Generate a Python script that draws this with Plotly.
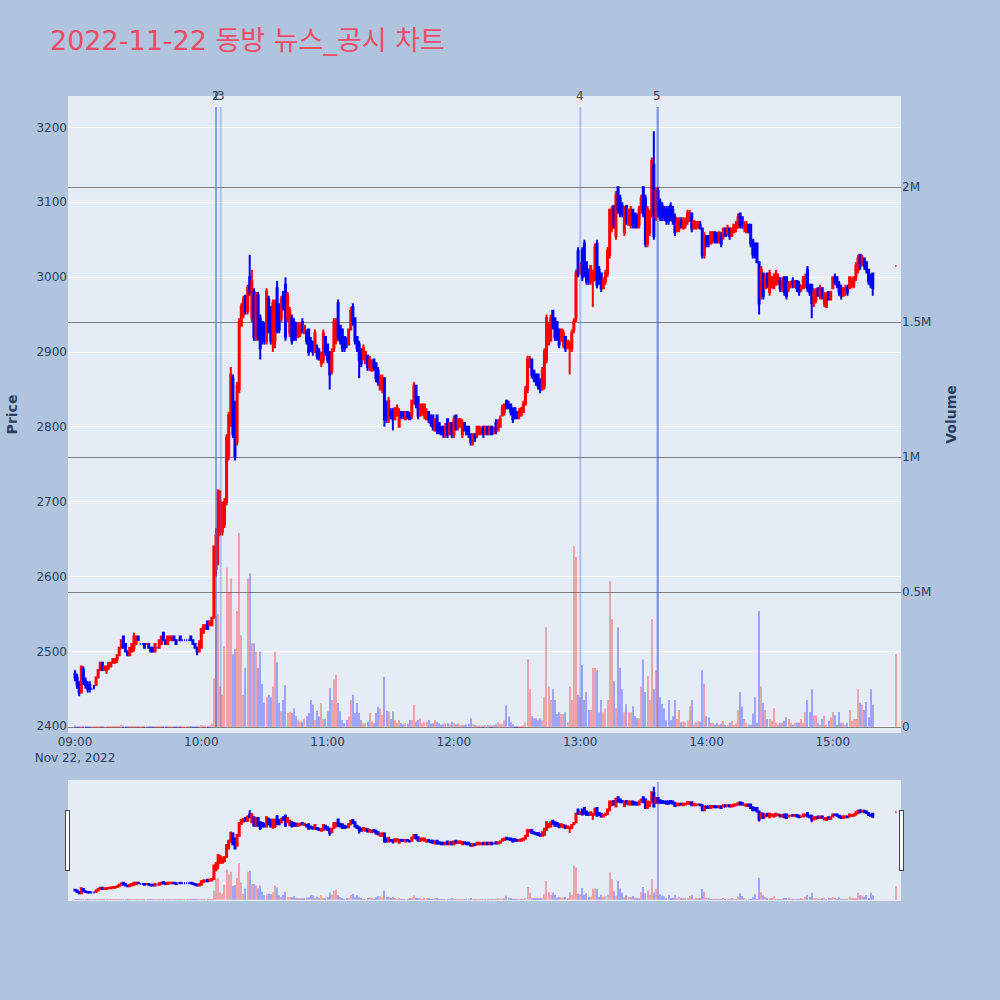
import pandas as pd
import plotly.graph_objects as go
from plotly.subplots import make_subplots

# ---------------- data (1-minute bars, 2022-11-22) ----------------
minute_offsets = list(range(380)) + [390]

opens = [
    2470,2465,2455,2445,2475,2460,2455,2455,2450,2450,
    2455,2465,2475,2485,2475,2475,2480,2480,2485,2485,
    2490,2495,2505,2520,2510,2500,2495,2500,2505,2510,
    2520,2510,2510,2510,2510,2510,2505,2505,2500,2505,
    2505,2510,2525,2515,2510,2515,2515,2520,2515,2515,
    2520,2515,2515,2515,2515,2520,2515,2510,2505,2500,
    2505,2525,2530,2540,2535,2535,2545,2610,2655,2660,
    2660,2670,2700,2760,2815,2865,2830,2780,2850,2935,
    2950,2975,2955,3000,2945,2980,2920,2975,2945,2940,
    2935,2915,2970,2960,2910,2915,2985,2960,2945,2980,
    2990,2945,2925,2945,2940,2935,2920,2925,2940,2925,
    2925,2930,2915,2910,2900,2905,2900,2885,2890,2920,
    2910,2900,2875,2905,2915,2965,2935,2930,2920,2915,
    2910,2930,2960,2945,2920,2910,2900,2890,2885,2895,
    2880,2875,2890,2885,2875,2850,2850,2865,2830,2810,
    2820,2820,2810,2815,2800,2820,2820,2810,2820,2815,
    2815,2835,2855,2840,2815,2820,2815,2810,2820,2815,
    2815,2795,2815,2805,2800,2800,2790,2810,2790,2805,
    2790,2815,2800,2800,2790,2805,2800,2800,2790,2780,
    2790,2790,2790,2790,2800,2790,2800,2790,2800,2795,
    2805,2795,2800,2815,2820,2835,2830,2830,2825,2825,
    2820,2815,2815,2820,2830,2850,2880,2890,2875,2870,
    2870,2860,2850,2855,2890,2910,2915,2955,2945,2940,
    2930,2915,2910,2920,2905,2905,2905,2930,2945,3035,
    3005,3035,3045,3020,3010,2995,2995,3000,3045,3010,
    3005,2985,2995,3005,3030,3065,3095,3055,3120,3105,
    3095,3060,3095,3070,3070,3090,3085,3080,3070,3090,
    3120,3105,3045,3060,3085,3150,3080,3115,3100,3095,
    3090,3090,3090,3095,3090,3080,3065,3065,3075,3065,
    3070,3075,3075,3085,3065,3065,3070,3070,3065,3030,
    3055,3055,3045,3050,3060,3055,3050,3055,3055,3065,
    3060,3065,3055,3060,3065,3070,3085,3080,3065,3060,
    3070,3070,3050,3045,3045,3020,2975,3005,2985,3005,
    2980,2990,2985,2990,2995,2995,2985,3000,3000,2985,
    2990,2995,2990,2995,2990,2985,2985,2990,3010,2990,
    2990,2965,2970,2985,2975,2985,2965,2960,2980,2970,
    2985,3000,3000,2990,2985,2975,2980,2985,2985,2990,
    2990,3000,3010,3030,3020,3025,3020,3010,3000,3005,
    3015,
]

highs = [
    2475,2470,2460,2480,2480,2465,2460,2460,2450,2455,
    2465,2475,2485,2485,2480,2480,2485,2485,2490,2490,
    2495,2505,2515,2520,2510,2500,2505,2510,2525,2520,
    2520,2510,2510,2510,2510,2510,2505,2505,2510,2505,
    2515,2520,2525,2515,2520,2520,2520,2520,2515,2515,
    2520,2515,2515,2515,2515,2520,2515,2510,2505,2515,
    2530,2535,2535,2540,2540,2545,2640,2665,2715,2715,
    2700,2705,2790,2820,2880,2870,2835,2860,2945,2965,
    2975,2975,2990,3030,3010,2985,2980,2980,2950,2940,
    2940,2985,2975,2960,2970,2970,2995,2965,2975,2980,
    3000,2980,2960,2950,2945,2940,2940,2940,2945,2935,
    2930,2930,2920,2915,2930,2910,2905,2900,2930,2920,
    2910,2900,2905,2945,2945,2970,2935,2930,2920,2920,
    2930,2960,2965,2945,2920,2915,2905,2910,2900,2895,
    2895,2890,2890,2885,2880,2870,2870,2865,2835,2840,
    2825,2825,2825,2830,2825,2820,2820,2820,2820,2820,
    2835,2860,2855,2840,2830,2830,2830,2825,2820,2815,
    2815,2810,2815,2805,2800,2800,2805,2810,2805,2805,
    2815,2815,2810,2810,2810,2805,2800,2800,2790,2790,
    2790,2800,2800,2800,2800,2800,2800,2800,2800,2800,
    2810,2810,2815,2830,2830,2835,2835,2830,2825,2825,
    2820,2825,2825,2835,2855,2895,2895,2890,2875,2870,
    2870,2865,2880,2905,2950,2940,2950,2955,2945,2940,
    2930,2930,2930,2920,2915,2915,2930,2945,3010,3040,
    3020,3040,3050,3020,3010,3015,3010,3045,3050,3015,
    3005,3000,3010,3040,3090,3095,3095,3115,3120,3110,
    3100,3095,3095,3090,3095,3090,3085,3085,3095,3110,
    3120,3110,3095,3090,3160,3195,3120,3120,3105,3100,
    3095,3095,3095,3100,3095,3085,3080,3080,3080,3080,
    3080,3090,3090,3085,3075,3075,3075,3075,3065,3060,
    3055,3055,3060,3060,3060,3060,3060,3060,3065,3065,
    3070,3065,3065,3070,3075,3085,3085,3080,3075,3075,
    3070,3070,3050,3045,3045,3020,3015,3005,3005,3005,
    3010,3000,3005,3010,3005,3000,3000,3000,3000,2995,
    2995,3000,2995,2995,2995,2990,3000,3005,3015,2990,
    2990,2985,2985,2985,2990,2985,2980,2980,2980,2980,
    3000,3005,3000,2995,2990,2985,2990,2990,3000,3000,
    3000,3020,3030,3030,3030,3025,3020,3010,3005,3005,
    3015,
]

lows = [
    2460,2450,2440,2445,2455,2450,2445,2445,2450,2450,
    2455,2465,2475,2475,2475,2470,2475,2480,2485,2485,
    2485,2495,2505,2505,2500,2495,2495,2500,2500,2510,
    2515,2510,2510,2505,2510,2505,2500,2500,2500,2505,
    2505,2510,2515,2510,2510,2515,2515,2515,2510,2515,
    2515,2515,2515,2515,2515,2515,2510,2505,2495,2500,
    2505,2525,2530,2530,2535,2535,2545,2600,2615,2655,
    2655,2665,2695,2755,2800,2785,2755,2775,2845,2935,
    2945,2950,2950,2975,2940,2915,2915,2915,2890,2910,
    2910,2910,2925,2910,2900,2905,2925,2925,2940,2955,
    2915,2940,2920,2910,2915,2915,2920,2920,2925,2925,
    2910,2895,2900,2895,2900,2890,2890,2880,2885,2895,
    2885,2850,2870,2900,2910,2915,2910,2900,2900,2905,
    2910,2930,2935,2910,2900,2865,2880,2890,2885,2875,
    2875,2875,2875,2860,2855,2850,2845,2800,2805,2805,
    2810,2795,2810,2815,2800,2810,2810,2810,2810,2810,
    2810,2830,2825,2810,2815,2815,2810,2810,2805,2800,
    2795,2795,2790,2790,2790,2785,2785,2785,2790,2785,
    2785,2795,2795,2800,2785,2795,2790,2785,2775,2775,
    2780,2785,2790,2790,2785,2790,2790,2790,2790,2790,
    2790,2795,2800,2815,2815,2825,2825,2815,2805,2810,
    2810,2810,2815,2820,2830,2845,2880,2865,2860,2855,
    2850,2845,2850,2850,2885,2910,2915,2930,2915,2915,
    2905,2915,2905,2900,2905,2870,2900,2925,2940,3000,
    3005,2995,3000,2990,2990,2990,2960,2995,2985,2990,
    2980,2985,2990,3000,3025,3060,3065,3050,3085,3080,
    3080,3055,3070,3070,3065,3065,3065,3065,3065,3085,
    3080,3040,3040,3055,3080,3050,3075,3080,3075,3075,
    3075,3070,3070,3075,3070,3055,3060,3060,3065,3065,
    3065,3070,3075,3060,3065,3065,3065,3065,3025,3025,
    3040,3040,3045,3045,3045,3045,3045,3040,3050,3055,
    3055,3050,3055,3060,3060,3065,3065,3065,3060,3060,
    3060,3040,3025,3025,3020,2950,2970,2970,2985,2985,
    2975,2985,2985,2990,2990,2980,2980,2975,2970,2980,
    2985,2985,2985,2980,2975,2980,2985,2985,2980,2975,
    2945,2960,2965,2975,2970,2970,2960,2960,2970,2970,
    2985,2990,2985,2975,2970,2975,2975,2975,2985,2985,
    2985,2995,3005,3010,3015,3010,3005,2990,2985,2975,
    3015,
]

closes = [
    2465,2455,2445,2480,2460,2455,2450,2450,2450,2450,
    2465,2475,2485,2475,2480,2480,2485,2485,2490,2490,
    2495,2505,2515,2505,2500,2495,2505,2510,2520,2520,
    2515,2510,2510,2505,2510,2505,2500,2500,2510,2505,
    2515,2520,2515,2510,2520,2520,2520,2515,2510,2515,
    2515,2515,2515,2515,2515,2515,2510,2505,2500,2510,
    2530,2535,2535,2530,2540,2545,2640,2655,2715,2700,
    2695,2700,2785,2815,2870,2790,2760,2855,2940,2960,
    2970,2955,2985,2980,2995,2920,2975,2920,2905,2915,
    2915,2980,2930,2915,2965,2960,2930,2930,2970,2960,
    2920,2975,2955,2915,2920,2920,2935,2935,2930,2935,
    2915,2900,2905,2900,2925,2895,2890,2895,2925,2900,
    2890,2870,2900,2940,2940,2920,2915,2905,2905,2910,
    2930,2955,2940,2915,2905,2890,2885,2905,2900,2880,
    2890,2885,2880,2865,2860,2865,2865,2810,2810,2835,
    2815,2810,2825,2825,2820,2815,2815,2820,2815,2810,
    2835,2855,2830,2815,2830,2830,2830,2820,2810,2805,
    2800,2810,2795,2795,2790,2790,2800,2790,2805,2790,
    2810,2800,2810,2810,2805,2795,2790,2790,2780,2790,
    2785,2800,2800,2795,2790,2800,2790,2800,2790,2795,
    2795,2805,2810,2825,2830,2825,2825,2820,2810,2815,
    2815,2820,2825,2830,2850,2890,2890,2870,2865,2860,
    2855,2850,2875,2900,2945,2935,2945,2935,2920,2920,
    2910,2930,2925,2905,2915,2910,2925,2940,3005,3005,
    3015,3000,3005,2995,2995,3015,3005,3040,2990,2995,
    2985,2995,3005,3035,3090,3090,3070,3110,3090,3085,
    3085,3090,3075,3090,3090,3070,3070,3070,3090,3105,
    3085,3045,3090,3085,3155,3055,3115,3085,3080,3080,
    3080,3075,3075,3080,3075,3060,3075,3075,3070,3075,
    3075,3085,3085,3065,3075,3070,3070,3065,3030,3055,
    3045,3045,3060,3060,3050,3050,3060,3045,3065,3055,
    3065,3055,3065,3070,3070,3080,3070,3070,3070,3070,
    3060,3045,3030,3030,3020,2965,3010,2975,3000,2990,
    3005,3000,3000,3005,3000,2985,2995,2980,2975,2990,
    2990,2990,2995,2985,2980,2985,3000,3000,2985,2980,
    2965,2980,2980,2975,2985,2975,2975,2975,2970,2980,
    3000,2995,2990,2980,2975,2985,2985,2980,3000,2995,
    3000,3015,3025,3015,3025,3015,3010,2995,2990,2985,
    3015,
]

volumes = [
    6000,3000,2500,4000,2000,1500,2000,1800,1000,1200,
    1500,2000,1800,1500,1000,1200,1400,1000,1500,2000,
    1800,3000,9000,5000,2500,2000,1500,2000,3000,2500,
    1500,1000,1000,800,900,1500,1200,1000,1500,800,
    1200,1500,3000,2000,1500,1200,1000,1300,1000,800,
    1200,700,800,600,900,1500,2000,1500,3000,4000,
    8000,6000,5000,4000,6000,12000,180000,410000,420000,150000,
    120000,300000,590000,500000,550000,270000,290000,430000,720000,340000,
    120000,220000,550000,570000,310000,310000,280000,220000,280000,160000,
    90000,110000,120000,110000,150000,280000,240000,90000,58000,100000,
    155000,52000,58000,52000,70000,40000,26000,20000,20000,30000,
    40000,52000,100000,83000,26000,60000,40000,89000,30000,30000,
    58000,145000,100000,177000,195000,89000,58000,26000,14000,26000,
    40000,100000,120000,52000,89000,52000,26000,14000,14000,20000,
    52000,20000,14000,52000,75000,70000,45000,185000,60000,58000,
    30000,58000,26000,15000,26000,14000,10000,14000,12000,26000,
    26000,83000,20000,26000,33000,14000,20000,20000,26000,12000,
    14000,26000,20000,14000,9000,10000,14000,14000,10000,20000,
    14000,10000,14000,8000,9000,7000,10000,12000,33000,10000,
    8000,6000,7000,5000,6000,8000,9000,7000,6000,8000,
    10000,18000,12000,10000,25000,80000,40000,18000,10000,3000,
    4000,3000,3000,6000,18000,250000,140000,40000,33000,33000,
    25000,33000,25000,110000,370000,150000,100000,140000,100000,48000,
    55000,48000,48000,55000,18000,150000,100000,670000,630000,120000,
    110000,230000,100000,130000,63000,63000,220000,220000,210000,55000,
    100000,55000,70000,100000,540000,400000,170000,70000,370000,220000,
    140000,55000,85000,55000,55000,77000,40000,33000,33000,150000,
    250000,130000,190000,100000,400000,140000,210000,2296000,110000,85000,
    70000,25000,100000,25000,40000,100000,30000,63000,18000,20000,
    18000,25000,77000,100000,10000,18000,23000,20000,210000,160000,
    40000,36000,16000,16000,9000,16000,9000,12000,23000,9000,
    9000,16000,23000,9000,13000,63000,130000,76000,30000,16000,
    9000,9000,50000,110000,16000,430000,150000,90000,63000,30000,
    30000,23000,70000,16000,9000,16000,16000,23000,36000,30000,
    16000,9000,16000,16000,16000,30000,16000,56000,100000,56000,
    140000,43000,43000,16000,9000,30000,43000,9000,23000,36000,
    56000,43000,9000,56000,16000,16000,9000,16000,63000,23000,
    30000,30000,140000,90000,83000,63000,93000,36000,140000,83000,
    270000,
]

news_times = ["2022-11-22 10:07:00", "2022-11-22 10:07:00", "2022-11-22 10:09:13",
              "2022-11-22 13:00:03", "2022-11-22 13:36:37"]
news_labels = ["1", "2", "3", "4", "5"]

title_text = "2022-11-22 동방 뉴스_공시 차트"

n = len(minute_offsets)
assert all(len(s) == n for s in (opens, highs, lows, closes, volumes)), [len(s) for s in (opens, highs, lows, closes, volumes)]

start = pd.Timestamp("2022-11-22 09:00")
times = [start + pd.Timedelta(minutes=m) for m in minute_offsets]

UP = "red"
DOWN = "blue"
vol_colors = [UP if c >= o else DOWN for o, c in zip(opens, closes)]
vol_max = max(volumes)

fig = make_subplots(specs=[[{"secondary_y": True}]])

fig.add_trace(
    go.Candlestick(
        x=times, open=opens, high=highs, low=lows, close=closes,
        increasing=dict(line=dict(color=UP, width=2), fillcolor=UP),
        decreasing=dict(line=dict(color=DOWN, width=2), fillcolor=DOWN),
        name="Price", showlegend=False,
    ),
    secondary_y=False,
)

fig.add_trace(
    go.Bar(
        x=times, y=volumes, marker=dict(color=vol_colors, line=dict(width=0)),
        opacity=0.3, name="Volume", showlegend=False,
    ),
    secondary_y=True,
)

x_start = "2022-11-22 08:56:40"
x_end = "2022-11-22 15:32:25"

for t, lab in zip(news_times, news_labels):
    fig.add_shape(type="line", xref="x", yref="y2", x0=t, x1=t, y0=0, y1=vol_max,
                  line=dict(color="rgba(65,105,225,0.35)", width=2))
    fig.add_annotation(x=t, y=1, xref="x", yref="paper", text=lab, showarrow=False,
                       yanchor="middle", font=dict(size=12, color="#3a4658"))

fig.update_layout(
    width=1000, height=1000,
    font=dict(family="DejaVu Sans", size=12, color="#2a3f5f"),
    paper_bgcolor="#B0C4DE",
    plot_bgcolor="#E5ECF6",
    title=dict(text=title_text, x=0.05, xanchor="left", y=0.959, yanchor="middle",
               font=dict(family="DejaVu Sans, Noto Sans CJK KR", size=27, color="#EE4B64")),
    margin=dict(l=68, r=99, t=96, b=100),
    showlegend=False,
    bargap=0.5,
)

fig.update_xaxes(
    type="date", range=[x_start, x_end], domain=[0, 1],
    rangeslider=dict(visible=True, range=[x_start, x_end], bgcolor="#E5ECF6", thickness=0.15),
    showgrid=False,
)
fig.update_yaxes(title_text="<b>Price</b>", range=[2391, 3242], dtick=100,
                 gridcolor="white", automargin=False, secondary_y=False)
fig.update_yaxes(title_text="<b>Volume</b>", range=[-22000, 2337000],
                 gridcolor="grey", showgrid=True, zeroline=False, automargin=False,
                 secondary_y=True)

fig.write_html("out.html", post_script="document.body.style.margin='0';",
               config={"displayModeBar": False})
